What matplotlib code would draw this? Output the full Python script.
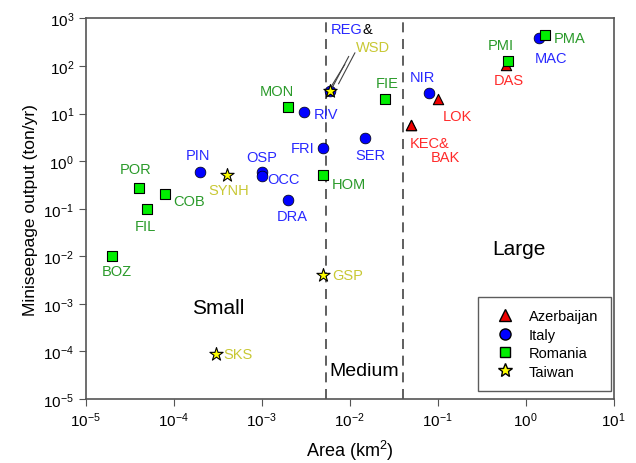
import numpy as np
import matplotlib
matplotlib.use('Agg')
import matplotlib.pyplot as plt
from matplotlib.lines import Line2D

plt.rcParams['font.family'] = ['Liberation Sans', 'DejaVu Sans']
plt.rcParams['mathtext.fontset'] = 'custom'
plt.rcParams['mathtext.rm'] = 'Liberation Sans'
plt.rcParams['mathtext.it'] = 'Liberation Sans'

# Data: area (km2) and miniseepage output (ton/yr)
aze_names = ['LOK', 'KEC', 'BAK', 'DAS']
aze_area = [0.1, 0.05, 0.05, 0.6]
aze_out = [20, 5.7, 5.7, 105]

ita_names = ['PIN', 'OSP', 'OCC', 'DRA', 'RIV', 'FRI', 'REG', 'SER', 'NIR', 'MAC']
ita_area = [2e-4, 1e-3, 1e-3, 2e-3, 3e-3, 4.9e-3, 6e-3, 0.015, 0.08, 1.4]
ita_out = [0.6, 0.6, 0.48, 0.15, 10.7, 1.9, 30, 3.0, 27, 390]

rom_names = ['BOZ', 'FIL', 'POR', 'COB', 'MON', 'HOM', 'FIE', 'PMI', 'PMA']
rom_area = [2e-5, 5e-5, 4e-5, 8e-5, 2e-3, 5e-3, 0.025, 0.63, 1.65]
rom_out = [0.01, 0.1, 0.27, 0.2, 14, 0.5, 20, 128, 450]

tai_names = ['SYNH', 'SKS', 'GSP', 'WSD']
tai_area = [4e-4, 3e-4, 5e-3, 6e-3]
tai_out = [0.5, 8.7e-5, 0.004, 30]

# class boundaries (km2)
bounds = [5.3e-3, 0.04]

# label offsets in pixels (dx, dy)
offsets = {
    'LOK': (20, -17), 'DAS': (3, -15),
    'PIN': (-2, 17), 'OSP': (0, 15), 'OCC': (22, -3), 'DRA': (4, -16),
    'RIV': (22, -2), 'FRI': (-20, 0), 'SER': (5, -17), 'NIR': (-7, 16), 'MAC': (12, -20),
    'BOZ': (4, -15), 'FIL': (-2, -17), 'POR': (-3, 19), 'COB': (24, -7), 'MON': (-11, 16),
    'HOM': (26, -9), 'FIE': (2, 16), 'PMI': (-7, 16), 'PMA': (25, -3),
    'SYNH': (2, -15), 'SKS': (22, 0), 'GSP': (24, 0),
}

c_red, c_blue, c_green, c_yel = '#ff2a2a', '#2828ff', '#2a9a2a', '#c8c834'

fig = plt.figure(figsize=(6.36, 4.64), dpi=100)
ax = fig.add_axes([0.135, 0.138, 0.83, 0.82])
ax.set_xscale('log')
ax.set_yscale('log')
ax.set_xlim(1e-5, 10)
ax.set_ylim(1e-5, 1e3)

for b in bounds:
    ax.axvline(b, color='#444444', ls=(0, (6, 4)), lw=1.2, zorder=1)

ax.scatter(aze_area, aze_out, marker='^', s=55, c='#ee0000', edgecolors='black', linewidths=0.8, zorder=3)
ax.scatter(ita_area, ita_out, marker='o', s=60, c='#0000ff', edgecolors='black', linewidths=0.5, zorder=3)
ax.scatter(rom_area, rom_out, marker='s', s=50, c='#00ee00', edgecolors='black', linewidths=0.8, zorder=4)
ax.scatter(tai_area, tai_out, marker='*', s=100, c='#ffff00', edgecolors='black', linewidths=0.8, zorder=5)

groups = [(aze_names, aze_area, aze_out, c_red), (ita_names, ita_area, ita_out, c_blue),
          (rom_names, rom_area, rom_out, c_green), (tai_names, tai_area, tai_out, c_yel)]
for names, xs, ys, col in groups:
    for n, x, y in zip(names, xs, ys):
        if n in offsets:
            ax.annotate(n, (x, y), xytext=offsets[n], textcoords='offset pixels',
                        ha='center', va='center', color=col, fontsize=10.5)

# combined labels
ax.annotate('KEC&', (aze_area[1], aze_out[1]), xytext=(18, -18), textcoords='offset pixels',
            ha='center', va='center', color=c_red, fontsize=10.5)
ax.annotate('BAK', (aze_area[2], aze_out[2]), xytext=(34, -32), textcoords='offset pixels',
            ha='center', va='center', color=c_red, fontsize=10.5)
ax.annotate('REG', (ita_area[6], ita_out[6]), xytext=(32, 62), textcoords='offset pixels',
            ha='right', va='center', color=c_blue, fontsize=10.5)
ax.annotate('&', (ita_area[6], ita_out[6]), xytext=(32, 62), textcoords='offset pixels',
            ha='left', va='center', color='black', fontsize=10.5)
ax.annotate('WSD', (tai_area[3], tai_out[3]), xytext=(43, 44), textcoords='offset pixels',
            ha='center', va='center', color=c_yel, fontsize=10.5)
ax.annotate('', (tai_area[3] * 1.02, tai_out[3] * 1.05), xytext=(19, 36), textcoords='offset pixels',
            arrowprops=dict(arrowstyle='-', color='#444444', lw=0.8))
ax.annotate('', (tai_area[3] * 1.2, tai_out[3] * 1.25), xytext=(19, 36), textcoords='offset pixels',
            arrowprops=dict(arrowstyle='-', color='#444444', lw=0.8))
ax.annotate('', (tai_area[3] * 1.0, tai_out[3] * 1.15), xytext=(16, 26), textcoords='offset pixels',
            arrowprops=dict(arrowstyle='-', color='#444444', lw=0.8))

# size class labels
ax.text(3.2e-4, 8.5e-4, 'Small', fontsize=15, ha='center', va='center')
ax.text(0.0147, 4e-5, 'Medium', fontsize=14, ha='center', va='center')
ax.text(0.83, 0.0148, 'Large', fontsize=15, ha='center', va='center')

ax.set_xlabel('Area (km$^2$)', fontsize=13, labelpad=6)
ax.set_ylabel('Miniseepage output (ton/yr)', fontsize=12.5, labelpad=4)
ax.minorticks_off()
ax.tick_params(axis='both', which='major', labelsize=11, direction='out', length=5,
               top=False, right=False, color='#555555')
for sp in ax.spines.values():
    sp.set_color('#555555')
    sp.set_linewidth(1.2)

handles = [
    Line2D([], [], marker='^', ls='none', mfc='#ee0000', mec='black', ms=8),
    Line2D([], [], marker='o', ls='none', mfc='#0000ff', mec='black', ms=8),
    Line2D([], [], marker='s', ls='none', mfc='#00ee00', mec='black', ms=7),
    Line2D([], [], marker='*', ls='none', mfc='#ffff00', mec='black', ms=10),
]
leg = ax.legend(handles, ['Azerbaijan', 'Italy', 'Romania', 'Taiwan'], loc='lower right',
                bbox_to_anchor=(0.994, 0.021), borderaxespad=0, fontsize=10.5, frameon=True,
                fancybox=False, edgecolor='#333333', handletextpad=0.6, borderpad=0.85,
                labelspacing=0.3)
leg.get_frame().set_linewidth(1.0)

fig.savefig('out.png', dpi=100)
